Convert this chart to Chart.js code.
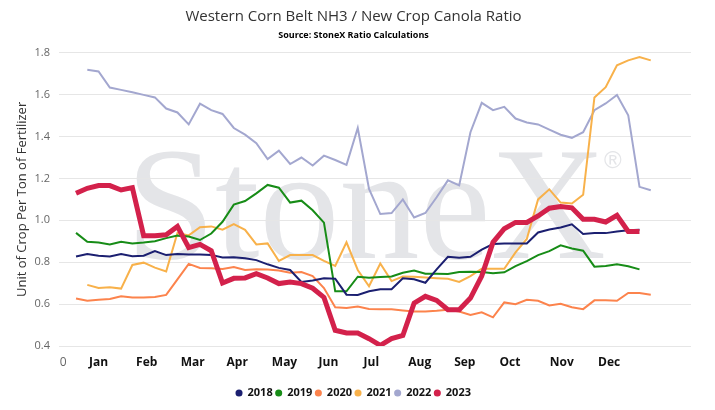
<!DOCTYPE html>
<html>
<head>
<meta charset="utf-8">
<script src="https://cdn.jsdelivr.net/npm/chart.js@4.4.1/dist/chart.umd.min.js"></script>
<style>
  html, body { margin: 0; background: #fff; }
  #wrap { width: 715px; height: 410px; }
</style>
</head>
<body>
<div id="wrap"><canvas id="chartRatio"></canvas></div>
<script>
// week index of each observation (0 = first week of the year)
const weeks = [0, 1, 2, 3, 4, 5, 6, 7, 8, 9, 10, 11, 12, 13, 14, 15, 16, 17, 18, 19,
  20, 21, 22, 23, 24, 25, 26, 27, 28, 29, 30, 31, 32, 33, 34, 35, 36, 37, 38, 39,
  40, 41, 42, 43, 44, 45, 46, 47, 48, 49, 50, 51]

const months = ['Jan', 'Feb', 'Mar', 'Apr', 'May', 'Jun', 'Jul', 'Aug', 'Sep', 'Oct', 'Nov', 'Dec']
const monthTicks = [2.0, 6.27, 10.35, 14.3, 18.5, 22.4, 26.2, 30.5, 34.5, 38.5, 43.1, 47.3]
const years = ['2018', '2019', '2020', '2021', '2022', '2023']

const y2018 = [0.827, 0.839, 0.831, 0.827, 0.839, 0.829, 0.831, 0.853, 0.834, 0.839,
  0.837, 0.837, 0.835, 0.823, 0.824, 0.819, 0.810, 0.790, 0.773, 0.763,
  0.706, 0.713, 0.723, 0.721, 0.645, 0.644, 0.661, 0.671, 0.671, 0.723,
  0.719, 0.702, 0.766, 0.826, 0.821, 0.826, 0.860, 0.887, 0.890, 0.890,
  0.890, 0.942, 0.956, 0.966, 0.981, 0.935, 0.939, 0.939, 0.947, 0.953,
  0.955, null]

const y2019 = [0.940, 0.898, 0.894, 0.885, 0.898, 0.890, 0.894, 0.900, 0.915, 0.927,
  0.923, 0.906, 0.937, 0.993, 1.075, 1.092, 1.129, 1.169, 1.156, 1.085,
  1.094, 1.048, 0.989, 0.661, 0.661, 0.731, 0.726, 0.729, 0.732, 0.750,
  0.760, 0.745, 0.745, 0.744, 0.753, 0.755, 0.753, 0.747, 0.752, 0.781,
  0.805, 0.834, 0.853, 0.881, 0.866, 0.855, 0.779, 0.782, 0.790, 0.781,
  0.766, null]

const y2020 = [0.627, 0.616, 0.621, 0.624, 0.637, 0.632, 0.631, 0.634, 0.644, 0.718,
  0.792, 0.773, 0.771, 0.768, 0.777, 0.763, 0.766, 0.765, 0.761, 0.750,
  0.753, 0.734, 0.677, 0.585, 0.581, 0.589, 0.577, 0.576, 0.576, 0.570,
  0.565, 0.565, 0.568, 0.573, 0.565, 0.548, 0.561, 0.537, 0.608, 0.600,
  0.621, 0.616, 0.594, 0.602, 0.585, 0.576, 0.618, 0.618, 0.616, 0.653,
  0.653, 0.645]

const y2021 = [null, 0.692, 0.677, 0.681, 0.674, 0.787, 0.798, 0.774, 0.756, 0.940,
  0.928, 0.967, 0.971, 0.955, 0.982, 0.955, 0.885, 0.890, 0.806, 0.834,
  0.834, 0.834, 0.806, 0.782, 0.895, 0.763, 0.685, 0.794, 0.710, 0.732,
  0.731, 0.727, 0.724, 0.721, 0.706, 0.734, 0.769, 0.769, 0.769, 0.847,
  0.911, 1.100, 1.148, 1.085, 1.080, 1.122, 1.587, 1.636, 1.740, 1.764,
  1.780, 1.764]

const y2022 = [null, 1.719, 1.711, 1.634, 1.623, 1.612, 1.599, 1.587, 1.534, 1.515,
  1.458, 1.557, 1.526, 1.508, 1.441, 1.409, 1.368, 1.293, 1.333, 1.269,
  1.300, 1.262, 1.309, 1.288, 1.265, 1.441, 1.150, 1.030, 1.035, 1.100,
  1.014, 1.035, 1.110, 1.191, 1.167, 1.421, 1.561, 1.526, 1.542, 1.486,
  1.467, 1.458, 1.433, 1.409, 1.394, 1.421, 1.526, 1.558, 1.599, 1.502,
  1.160, 1.144]

const y2023 = [1.129, 1.153, 1.166, 1.166, 1.145, 1.156, 0.927, 0.927, 0.931, 0.971,
  0.870, 0.885, 0.855, 0.701, 0.723, 0.725, 0.745, 0.725, 0.698, 0.705,
  0.698, 0.676, 0.632, 0.475, 0.462, 0.462, 0.435, 0.403, 0.435, 0.450,
  0.605, 0.637, 0.618, 0.573, 0.573, 0.629, 0.734, 0.895, 0.960, 0.990,
  0.990, 1.021, 1.058, 1.066, 1.060, 1.005, 1.005, 0.992, 1.024, 0.947,
  0.947, null]

const seriesValues = [y2018, y2019, y2020, y2021, y2022, y2023]
const colors = ['#1b1f70', '#178c17', '#fc834c', '#f8b14a', '#a3a7cf', '#d3214b']
const widths = [2, 2, 2, 2, 2, 5]
const drawOrder = [1, 2, 3, 4, 5, 0]

Chart.defaults.font.family = "'Open Sans', sans-serif"

// big grey StoneX mark behind the lines
const watermark = {
  id: 'watermark',
  beforeDraw(chart) {
    const c = chart.ctx
    c.save()
    c.fillStyle = '#e4e5e8'
    c.textBaseline = 'alphabetic'
    c.font = '160px "Liberation Serif", serif'
    c.fillText('StoneX', 126, 258)
    c.font = '24px "Liberation Sans", sans-serif'
    c.fillText('\u00ae', 604, 168)
    c.restore()
  },
}

// titles and legend sit a bit right of the plot centre in the original
const nudgeBoxes = {
  id: 'nudgeBoxes',
  afterLayout(chart) {
    chart.boxes.filter(b => !b.axis).forEach(b => {
      b.left += 8
      b.right += 8
    })
  },
}

const ctx = document.getElementById('chartRatio').getContext('2d')

new Chart(ctx, {
  type: 'line',
  data: {
    datasets: years.map((year, k) => ({
      label: year,
      data: weeks.map((w, i) => ({ x: w, y: seriesValues[k][i] })),
      borderColor: colors[k],
      backgroundColor: colors[k],
      borderWidth: widths[k],
      pointRadius: 0,
      tension: 0,
      spanGaps: false,
      order: drawOrder[k],
    })),
  },
  options: {
    responsive: true,
    maintainAspectRatio: false,
    animation: false,
    layout: { padding: { left: 0, right: 24, top: 0, bottom: 1.5 } },
    plugins: {
      title: {
        display: true,
        text: 'Western Corn Belt NH3 / New Crop Canola Ratio',
        color: '#333',
        font: { size: 15, weight: 'normal' },
        padding: { top: 8, bottom: 4 },
      },
      subtitle: {
        display: true,
        text: 'Source: StoneX Ratio Calculations',
        color: '#000',
        font: { size: 9, weight: 'bold' },
        padding: { top: 0, bottom: 12 },
      },
      legend: {
        position: 'bottom',
        labels: {
          usePointStyle: true,
          pointStyle: 'circle',
          boxWidth: 6,
          boxHeight: 5,
          padding: 3,
          color: '#111',
          font: { size: 11, weight: 'bold' },
          sort: (a, b) => a.datasetIndex - b.datasetIndex,
          generateLabels: chart =>
            Chart.defaults.plugins.legend.labels.generateLabels(chart).map(l => ({
              ...l,
              lineWidth: 0,
              strokeStyle: l.fillStyle,
            })),
        },
      },
      tooltip: { enabled: false },
    },
    scales: {
      x: {
        type: 'linear',
        min: -1.51,
        max: 54.57,
        grid: { display: false, drawTicks: false },
        border: { display: false },
        afterBuildTicks: scale => {
          scale.ticks = [-1.15, ...monthTicks].map(v => ({ value: v }))
        },
        afterFit: scale => {
          scale.height = 38.5
        },
        ticks: {
          autoSkip: false,
          maxRotation: 0,
          padding: 9,
          color: c => (c.index === 0 ? '#666' : '#111'),
          font: c => (c.index === 0 ? { size: 12, weight: 'normal' } : { size: 12, weight: 'bold' }),
          callback: (v, i) => (i === 0 ? '0' : months[i - 1]),
        },
      },
      y: {
        min: 0.4,
        max: 1.8,
        grid: { color: '#e6e6e6', drawTicks: false },
        border: { display: false },
        afterFit: scale => {
          scale.width = 59
        },
        ticks: {
          stepSize: 0.2,
          padding: 9,
          color: '#666',
          font: { size: 11 },
          callback: v => v.toFixed(1),
        },
        title: {
          display: true,
          text: 'Unit of Crop Per Ton of Fertilizer',
          color: '#333',
          font: { size: 13 },
          padding: { top: 14, bottom: 0 },
        },
      },
    },
  },
  plugins: [watermark, nudgeBoxes],
})
</script>
</body>
</html>
